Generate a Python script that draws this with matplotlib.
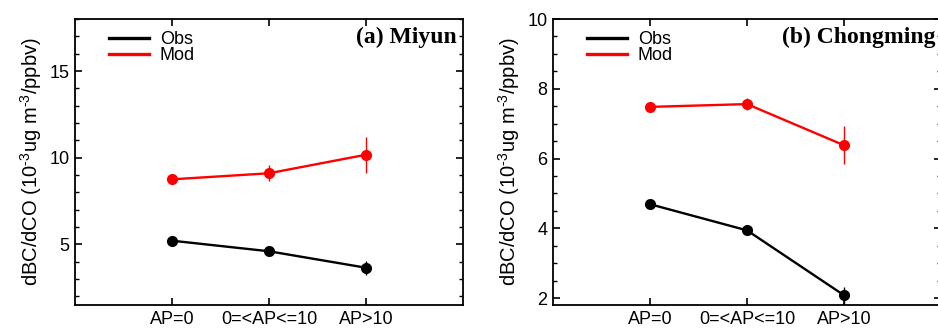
import matplotlib
matplotlib.use("Agg")
import matplotlib.pyplot as plt
from matplotlib.ticker import MultipleLocator

categories = ["AP=0", "0=<AP<=10", "AP>10"]

miyun_obs = [5.21, 4.60, 3.65]
miyun_obs_err = [0.12, 0.30, 0.40]
miyun_mod = [8.75, 9.10, 10.17]
miyun_mod_err = [0.12, 0.46, 1.03]

chong_obs = [4.69, 3.94, 2.08]
chong_obs_err = [0.06, 0.10, 0.24]
chong_mod = [7.48, 7.56, 6.38]
chong_mod_err = [0.06, 0.17, 0.55]

plt.rcParams['font.family'] = ['Liberation Sans', 'DejaVu Sans']
plt.rcParams['mathtext.fontset'] = 'custom'
plt.rcParams['mathtext.rm'] = 'Liberation Sans'
plt.rcParams['mathtext.it'] = 'Liberation Sans:italic'
plt.rcParams['mathtext.default'] = 'regular'

fig = plt.figure(figsize=(9.38, 3.29), dpi=100)
W, H = 938, 329

def make_ax(left_px, title, obs, obs_err, mod, mod_err, ylim, major, minor):
    ax = fig.add_axes([left_px / W, (H - 305) / H, 388 / W, 286 / H])
    x = list(range(len(categories)))
    ax.errorbar(x, obs, yerr=obs_err, color='black', lw=1.7, marker='o',
                ms=7, elinewidth=1.0, capsize=0, label='Obs')
    ax.errorbar(x, mod, yerr=mod_err, color='red', lw=1.7, marker='o',
                ms=7, elinewidth=1.0, capsize=0, label='Mod')
    ax.set_xlim(-1, 3)
    ax.set_ylim(*ylim)
    ax.set_xticks(x)
    ax.set_xticklabels(categories, fontsize=13)
    ax.yaxis.set_major_locator(MultipleLocator(major))
    ax.yaxis.set_minor_locator(MultipleLocator(minor))
    ax.tick_params(axis='both', which='major', direction='in', length=5,
                   width=1.2, top=True, right=True, labelsize=13, pad=4)
    ax.tick_params(axis='y', which='minor', direction='in', length=3,
                   width=1.0, right=True, left=True)
    for s in ax.spines.values():
        s.set_linewidth(1.3)
    ax.set_ylabel('dBC/dCO (10$^{\u2010 3}$ug m$^{\u2010 3}$/ppbv)'.replace('\u2010 ', '\u2010'),
                  fontsize=14.5, labelpad=4)
    ax.text(0.985, 0.935, title, transform=ax.transAxes, ha='right', va='center',
            fontsize=17, fontweight='bold', family=['Liberation Serif', 'DejaVu Serif'])
    ax.legend(handles=[plt.Line2D([], [], color='black', lw=2.4),
                       plt.Line2D([], [], color='red', lw=2.4)],
              labels=['Obs', 'Mod'], loc='upper left', bbox_to_anchor=(0.06, 0.995),
              frameon=False, fontsize=13, handlelength=2.2, handletextpad=0.6,
              labelspacing=-0.05, borderaxespad=0.2)
    return ax

make_ax(75, '(a) Miyun', miyun_obs, miyun_obs_err, miyun_mod, miyun_mod_err,
        (1.5, 18), 5, 1)
make_ax(553, '(b) Chongming', chong_obs, chong_obs_err, chong_mod, chong_mod_err,
        (1.8, 10), 2, 0.5)

fig.savefig('out.png', dpi=100)
